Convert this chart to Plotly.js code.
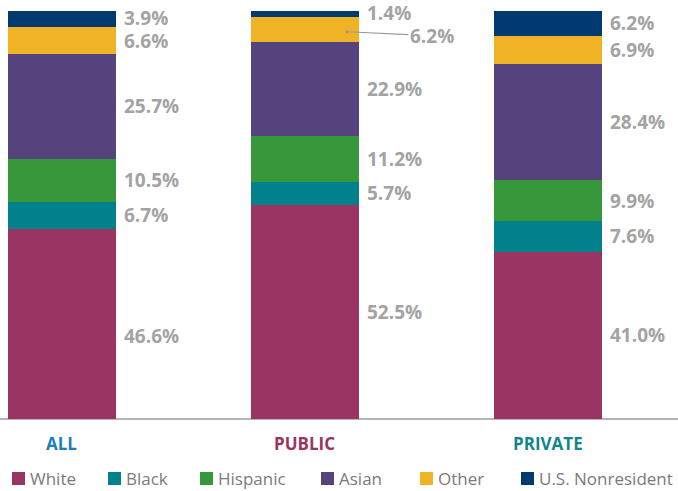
<!DOCTYPE html>
<html>
<head>
<meta charset="utf-8">
<script src="https://cdn.plot.ly/plotly-3.0.1.min.js"></script>
<style>html,body{margin:0;padding:0;background:#fff;}#chart{width:678px;height:491px;}</style>
</head>
<body>
<div id="chart"></div>
<script>
const categories = ['ALL', 'PUBLIC', 'PRIVATE'];
const categoryColors = ['#1a7fc1', '#9a3462', '#12868c'];
const white = [46.6, 52.5, 41.0];
const black = [6.7, 5.7, 7.6];
const hispanic = [10.5, 11.2, 9.9];
const asian = [25.7, 22.9, 28.4];
const other = [6.6, 6.2, 6.9];
const nonresident = [3.9, 1.4, 6.2];

const seriesNames = ['White', 'Black', 'Hispanic', 'Asian', 'Other', 'U.S. Nonresident'];
const seriesValues = [white, black, hispanic, asian, other, nonresident];
const seriesColors = ['#9a3462', '#00818b', '#36983a', '#55437d', '#f0b325', '#003a70'];

const W = 678, H = 491, T = 11, B = 72;
const plotH = H - T - B;
const py = p => (H - B - p) / plotH;   // pixel y -> paper y
const px = p => p / W;                 // pixel x -> paper x

const xs = categories.map((c, i) => i);
const barWidth = 0.444;
const labelGray = '#a3a3a3';
const labelFont = {family: 'Open Sans, sans-serif', size: 19, color: labelGray, weight: 700};

const traces = seriesNames.map((name, s) => ({
  type: 'bar',
  name: name,
  x: xs,
  y: seriesValues[s],
  width: barWidth,
  marker: {color: seriesColors[s], line: {width: 0}},
  hoverinfo: 'skip',
  showlegend: false
}));

const annotations = [];
const shapes = [];
xs.forEach((x, i) => {
  let base = 0;
  seriesValues.forEach((vals, s) => {
    const v = vals[i];
    const mid = base + v / 2;
    base += v;
    const txt = v.toFixed(1) + '%';
    if (i === 1 && s === 4) {
      annotations.push({
        x: x + barWidth / 2, y: mid, xref: 'x', yref: 'y',
        xshift: -12, yshift: -2,
        text: txt, font: labelFont,
        showarrow: true, arrowhead: 6, arrowsize: 0.6, arrowwidth: 1.2,
        arrowcolor: '#9a9a9a', ax: 85, ay: 4, standoff: 0
      });
    } else {
      let ys = 0;
      if (i === 0 && s === 0) ys = -12;
      if (s === 5) ys = 1;
      if (i === 0 && s === 4) ys = -1;
      annotations.push({
        x: x + barWidth / 2, y: mid, xref: 'x', yref: 'y',
        xanchor: 'left', yanchor: 'middle', xshift: 6,
        yshift: ys, height: 20, valign: 'middle',
        text: txt, font: labelFont, showarrow: false
      });
    }
  });
  annotations.push({
    x: x, y: py(443.5), xref: 'x', yref: 'paper',
    xanchor: 'center', yanchor: 'middle',
    text: categories[i], showarrow: false,
    font: {family: 'Open Sans, sans-serif', size: 17, color: categoryColors[i], weight: 700}
  });
});

// custom legend (symbol close to text, as in the reference)
const legendTextX = [29, 125, 217, 338, 437, 538];
seriesNames.forEach((name, s) => {
  const tx = legendTextX[s];
  shapes.push({
    type: 'rect', xref: 'paper', yref: 'paper',
    x0: px(tx - 17), x1: px(tx - 4), y0: py(485), y1: py(472),
    fillcolor: seriesColors[s], line: {width: 0}
  });
  annotations.push({
    x: px(tx), y: py(478.5), xref: 'paper', yref: 'paper',
    xanchor: 'left', yanchor: 'middle', showarrow: false, xshift: -1,
    text: name, font: {family: 'Open Sans, sans-serif', size: 17, color: '#7a7a7a'}
  });
});

const layout = {
  width: W, height: H,
  margin: {l: 0, r: 0, t: T, b: B, pad: 0, autoexpand: false},
  paper_bgcolor: '#ffffff', plot_bgcolor: '#ffffff',
  barmode: 'stack',
  bargap: 0,
  showlegend: false,
  xaxis: {
    range: [-0.255, 2.535], showticklabels: false, ticks: '',
    showgrid: false, zeroline: false, showline: false, fixedrange: true
  },
  yaxis: {
    range: [0, 100], showticklabels: false, ticks: '',
    showgrid: false, zeroline: true, zerolinecolor: '#b5b5b5', zerolinewidth: 1.5,
    showline: false, fixedrange: true
  },
  annotations: annotations,
  shapes: shapes
};

Plotly.newPlot('chart', traces, layout, {displayModeBar: false, staticPlot: true});
</script>
</body>
</html>
